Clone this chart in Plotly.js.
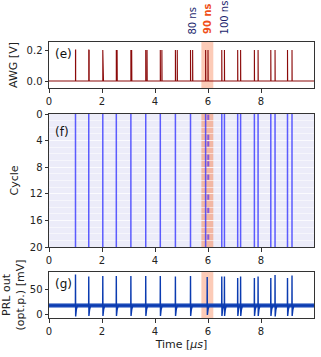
<!DOCTYPE html>
<html>
<head>
<meta charset="utf-8">
<script src="https://cdn.plot.ly/plotly-3.0.1.min.js"></script>
<style>
  html, body { margin: 0; padding: 0; background: #fff; }
  #plot { width: 321px; height: 357px; }
</style>
</head>
<body>
<div id="plot"></div>
<script>
// AWG pulse pairs: first and second pulse times [us]
let firstPulse  = [1.00, 1.50, 2.03, 2.54, 3.09, 3.65, 4.20, 4.77, 5.34, 5.91, 6.52, 7.12, 7.75, 8.37, 9.00];
let secondPulse = [1.00, 1.51, 2.05, 2.57, 3.12, 3.70, 4.26, 4.84, 5.42, 6.00, 6.62, 7.23, 7.89, 8.53, 9.17];
let awgAmp = 0.2;

// PRL spikes seen in every cycle
let spikeTimes = [1.00, 1.50, 2.03, 2.54, 3.09, 3.65, 4.20, 4.77, 5.34, 6.52, 6.62, 7.12, 7.23, 7.75, 7.89, 8.37, 8.53, 9.00, 9.17];
// the 90 ns second pulse fires only in some cycles
let partialSpike = 6.01;
let bandFirst = 5.91;
let partialFires = [1, 0, 0, 1, 1, 0, 1, 1, 0, 1, 0, 0, 1, 0, 1, 0, 0, 0, 1, 0];

// optimal point trace (panel g)
let gSpikeTimes = [1.00, 1.50, 2.03, 2.54, 3.09, 3.65, 4.20, 4.77, 5.34, 5.97, 6.52, 6.62, 7.12, 7.23, 7.75, 7.89, 8.37, 8.53, 9.00, 9.17];
let gPeaks      = [79, 75, 76, 76, 76, 76, 76, 75, 76, 74, 75, 75, 72, 75, 72, 75, 72, 78, 72, 77];
let gDips       = [-3, -2, -2, -2, -2, -2, -2, -2, -2, 0, -2, -2, -2, -2, -2, -2, -2, -3, -2, -2];
let gBaseLow = 15, gBaseHigh = 22, gBase = 18.5;

// highlighted window and labels
let band = [5.75, 6.2];
let delayLabels = ["80 ns", "90 ns", "100 ns"];
let delayLabelX = [5.42, 6.0, 6.64];

// ---- panel (e) AWG trace
let awgX = [0], awgY = [0];
for (let i = 0; i < firstPulse.length; i++) {
    let ps = [firstPulse[i]];
    if (secondPulse[i] != firstPulse[i]) ps.push(secondPulse[i]);
    for (let p of ps) {
        awgX.push(p, p, p + 0.006, p + 0.006);
        awgY.push(0, awgAmp, awgAmp, 0);
    }
}
awgX.push(10); awgY.push(0);

let traceE = {
    x: awgX, y: awgY, type: "scatter", mode: "lines",
    line: {color: "#8b0a0a", width: 1.1},
    xaxis: "x", yaxis: "y", hoverinfo: "skip"
};

// ---- panel (f) raster
let fx = [], fy = [];
for (let t of spikeTimes.concat([bandFirst])) {
    fx.push(t, t, null);
    fy.push(0, 20, null);
}
let traceF = {
    x: fx, y: fy, type: "scatter", mode: "lines",
    line: {color: "rgba(55,55,255,0.8)", width: 1.5},
    xaxis: "x2", yaxis: "y2", hoverinfo: "skip"
};
let px = [], py = [];
for (let c = 0; c < partialFires.length; c++) {
    if (partialFires[c]) {
        px.push(partialSpike, partialSpike, null);
        py.push(c + 0.1, c + 0.9, null);
    }
}
let traceF2 = {
    x: px, y: py, type: "scatter", mode: "lines",
    line: {color: "#8a5ad8", width: 2},
    xaxis: "x2", yaxis: "y2", hoverinfo: "skip"
};

// ---- panel (g) PRL output
let noiseLow = {
    x: [0, 10], y: [gBaseLow, gBaseLow], type: "scatter", mode: "lines",
    line: {color: "#1d4ab8", width: 0.5}, xaxis: "x3", yaxis: "y3", hoverinfo: "skip"
};
let noiseHigh = {
    x: [0, 10], y: [gBaseHigh, gBaseHigh], type: "scatter", mode: "lines",
    fill: "tonexty", fillcolor: "#2350bd",
    line: {color: "#1d4ab8", width: 0.5}, xaxis: "x3", yaxis: "y3", hoverinfo: "skip"
};
let gx = [0], gy = [gBase];
for (let i = 0; i < gSpikeTimes.length; i++) {
    let t = gSpikeTimes[i];
    gx.push(t - 0.004, t, t + 0.006, t + 0.03, t + 0.07);
    gy.push(gBase, gPeaks[i], gDips[i], 10, gBase);
}
gx.push(10); gy.push(gBase);
let traceG = {
    x: gx, y: gy, type: "scatter", mode: "lines",
    line: {color: "#0b3bb0", width: 1.4},
    xaxis: "x3", yaxis: "y3", hoverinfo: "skip"
};

let data = [traceE, traceF, traceF2, noiseLow, noiseHigh, traceG];

// ---- layout
let tickFont = {family: "DejaVu Sans", size: 10, color: "#222"};
let titleFont = {family: "DejaVu Sans", size: 11, color: "#222"};

function xAx(anchor, showLabels, title) {
    return {
        domain: [0, 1], anchor: anchor, range: [0, 10], matches: anchor == "y" ? undefined : "x",
        tickvals: [0, 2, 4, 6, 8], ticks: "outside", ticklen: 3.5, tickcolor: "#333",
        showticklabels: showLabels, tickfont: tickFont,
        showline: true, mirror: true, linecolor: "#333", linewidth: 1,
        showgrid: false, zeroline: false,
        title: title ? {text: title, font: titleFont, standoff: 4} : undefined
    };
}

let bandShape = (yr, a) => ({
    type: "rect", xref: "x", yref: yr, x0: band[0], x1: band[1], y0: 0, y1: 1,
    fillcolor: "rgba(248,140,95," + a + ")", line: {width: 0}, layer: "below"
});

let annotations = [];
for (let i = 0; i < delayLabels.length; i++) {
    annotations.push({
        text: delayLabels[i], x: delayLabelX[i], xref: "x", y: 1.02, yref: "paper",
        yanchor: "bottom", xanchor: "center", textangle: -90, showarrow: false,
        font: {family: "DejaVu Sans", size: 10, color: i == 1 ? "#f0501a" : "#1c1f6e",
               weight: i == 1 ? "bold" : "normal"}
    });
}
[["(e)", "x domain", "y domain"], ["(f)", "x2 domain", "y2 domain"], ["(g)", "x3 domain", "y3 domain"]].forEach(l => {
    annotations.push({
        text: l[0], xref: l[1], yref: l[2], x: 0.015, y: 0.93, xanchor: "left", yanchor: "top",
        showarrow: false, font: {family: "DejaVu Sans", size: 12, color: "#111"}
    });
});

let layout = {
    width: 321, height: 357,
    margin: {l: 49, r: 7, t: 42, b: 39},
    paper_bgcolor: "#fff", plot_bgcolor: "#fff",
    showlegend: false,
    xaxis: xAx("y", true),
    xaxis2: xAx("y2", true),
    xaxis3: xAx("y3", true, "Time [<i>μs</i>]"),
    yaxis: {
        domain: [0.8333, 1], anchor: "x", range: [-0.045, 0.252],
        tickvals: [0, 0.2], ticktext: ["0.0", "0.2"], ticks: "outside", ticklen: 3.5, tickcolor: "#333",
        tickfont: tickFont, showline: true, mirror: true, linecolor: "#333",
        showgrid: false, zeroline: false,
        title: {text: "AWG [V]", font: titleFont, standoff: 6}
    },
    yaxis2: {
        domain: [0.2572, 0.7391], anchor: "x2", range: [20, 0],
        tickvals: [0, 4, 8, 12, 16, 20], ticks: "outside", ticklen: 3.5, tickcolor: "#333",
        tickfont: tickFont, showline: true, mirror: true, linecolor: "#333",
        showgrid: true, gridcolor: "rgba(255,255,255,0.55)", gridwidth: 1, zeroline: false,
        minor: {dtick: 1, showgrid: true, gridcolor: "rgba(255,255,255,0.55)", gridwidth: 1},
        title: {text: "Cycle", font: titleFont, standoff: 8}
    },
    yaxis3: {
        domain: [0, 0.1667], anchor: "x3", range: [-6, 84],
        tickvals: [0, 50], ticks: "outside", ticklen: 3.5, tickcolor: "#333",
        tickfont: tickFont, showline: true, mirror: true, linecolor: "#333",
        showgrid: false, zeroline: false,
        title: {text: "PRL out<br>(opt.p.) [mV]", font: titleFont, standoff: 6}
    },
    shapes: [
        {type: "rect", xref: "x2 domain", yref: "y2 domain", x0: 0, x1: 1, y0: 0, y1: 1,
         fillcolor: "#ececf9", line: {width: 0}, layer: "below"},
        bandShape("y domain", 0.45), bandShape("y2 domain", 0.55), bandShape("y3 domain", 0.45)
    ],
    annotations: annotations
};

Plotly.newPlot("plot", data, layout, {staticPlot: true});
</script>
</body>
</html>
